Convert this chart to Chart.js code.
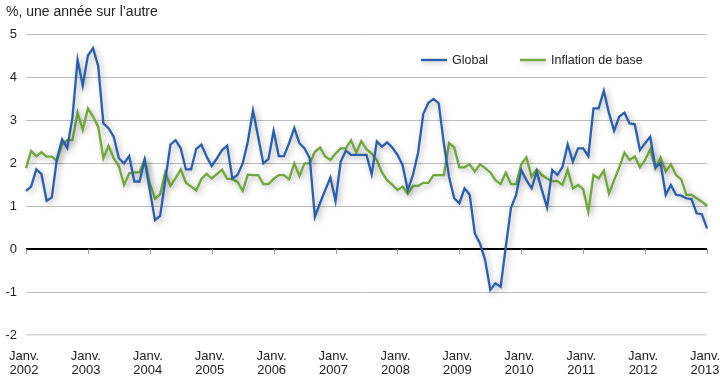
<!DOCTYPE html>
<html>
<head>
<meta charset="utf-8">
<script src="https://cdn.jsdelivr.net/npm/chart.js@4/dist/chart.umd.min.js"></script>
<style>
  html, body { margin: 0; padding: 0; background: #fff; }
  #c { display: block; }
</style>
</head>
<body>
<canvas id="c" width="720" height="380"></canvas>
<script>
// ---- Data (monthly, Jan 2002 – Jan 2013) ----
const yearLabels = ['2002','2003','2004','2005','2006','2007','2008','2009','2010','2011','2012','2013'];
const monthPrefix = 'Janv.';
const yAxisTitle = '%, une année sur l\u2019autre';
const seriesNames = ['Global', 'Inflation de base'];

const globalCPI = [
  1.35,1.45,1.85,1.74,1.12,1.20,2.10,2.55,2.35,3.05,4.40,3.80,
  4.50,4.67,4.25,2.92,2.81,2.61,2.11,1.99,2.16,1.57,1.57,2.07,
  1.37,0.67,0.77,1.60,2.43,2.53,2.34,1.85,1.85,2.33,2.43,2.15,
  1.93,2.11,2.30,2.40,1.64,1.72,1.99,2.50,3.22,2.61,1.99,2.09,
  2.75,2.16,2.16,2.46,2.81,2.46,2.34,2.11,0.75,1.07,1.37,1.66,
  1.12,2.03,2.29,2.19,2.19,2.19,2.19,1.74,2.50,2.38,2.48,2.36,
  2.19,1.95,1.37,1.72,2.24,3.14,3.40,3.49,3.39,2.45,1.68,1.18,
  1.06,1.41,1.26,0.36,0.13,-0.26,-0.95,-0.80,-0.88,0.05,0.95,1.26,
  1.84,1.60,1.41,1.80,1.37,0.97,1.84,1.72,1.91,2.43,2.03,2.34,
  2.34,2.16,3.27,3.27,3.68,3.16,2.75,3.08,3.17,2.92,2.90,2.30,
  2.46,2.61,1.90,2.00,1.26,1.49,1.26,1.24,1.18,1.16,0.83,0.81,
  0.48
];

const coreCPI = [
  1.88,2.28,2.16,2.25,2.15,2.15,2.05,2.42,2.53,2.53,3.17,2.77,
  3.27,3.08,2.84,2.11,2.40,2.11,1.93,1.49,1.76,1.78,1.78,2.09,
  1.53,1.17,1.27,1.78,1.47,1.65,1.85,1.54,1.45,1.36,1.63,1.75,
  1.64,1.74,1.84,1.63,1.63,1.56,1.35,1.73,1.72,1.72,1.51,1.51,
  1.63,1.72,1.72,1.62,1.99,1.70,1.99,1.99,2.26,2.36,2.15,2.07,
  2.22,2.34,2.34,2.53,2.24,2.51,2.32,2.22,2.07,1.78,1.60,1.49,
  1.37,1.45,1.28,1.47,1.47,1.54,1.54,1.72,1.72,1.72,2.46,2.36,
  1.90,1.90,1.97,1.80,1.97,1.88,1.78,1.60,1.51,1.78,1.51,1.51,
  1.97,2.13,1.68,1.85,1.72,1.64,1.58,1.58,1.49,1.84,1.41,1.49,
  1.39,0.87,1.72,1.64,1.82,1.29,1.60,1.90,2.24,2.07,2.15,1.90,
  2.07,2.32,1.88,2.13,1.80,1.97,1.72,1.62,1.26,1.26,1.18,1.10,
  1.00
];

// category labels: one per month
const categories = [];
for (let y = 0; y < yearLabels.length; y++) {
  for (let m = 1; m <= 12; m++) {
    if (categories.length < globalCPI.length) categories.push(yearLabels[y] + '-' + String(m).padStart(2, '0'));
  }
}

const BLUE = '#2b5eab';
const GREEN = '#6fa83b';
const FONT = "'Liberation Sans', Arial, sans-serif";

const deco = {
  id: 'deco',
  beforeDraw(chart) {
    const c = chart.ctx;
    c.save();
    c.fillStyle = '#fff';
    c.fillRect(0, 0, chart.width, chart.height);
    c.fillStyle = '#222';
    c.font = '14px ' + FONT;
    c.textAlign = 'left';
    c.textBaseline = 'middle';
    c.fillText(yAxisTitle, 6, 12);
    c.restore();
  },
  beforeDatasetsDraw(chart) {
    const c = chart.ctx, xs = chart.scales.x, ys = chart.scales.y;
    const y0 = ys.getPixelForValue(0);
    c.save();
    c.strokeStyle = '#999';
    c.lineWidth = 1;
    for (let i = 0; i < categories.length; i += 12) {
      const x = Math.round(xs.getPixelForValue(i)) + 0.5;
      c.beginPath();
      c.moveTo(x, y0);
      c.lineTo(x, y0 + 5);
      c.stroke();
    }
    c.restore();
  },
  beforeDatasetDraw(chart) {
    const c = chart.ctx;
    c.save();
    c.shadowColor = 'rgba(0,0,0,0.35)';
    c.shadowBlur = 6;
    c.shadowOffsetX = 2;
    c.shadowOffsetY = 2;
  },
  afterDatasetDraw(chart) {
    chart.ctx.restore();
  },
  afterDraw(chart) {
    const c = chart.ctx;
    const items = [
      { name: seriesNames[0], color: BLUE, x: 421 },
      { name: seriesNames[1], color: GREEN, x: 520 }
    ];
    const y = 60;
    c.save();
    c.font = '12.5px ' + FONT;
    c.textBaseline = 'middle';
    c.textAlign = 'left';
    items.forEach(it => {
      c.save();
      c.shadowColor = 'rgba(0,0,0,0.3)';
      c.shadowBlur = 5;
      c.shadowOffsetX = 1;
      c.shadowOffsetY = 2;
      c.strokeStyle = it.color;
      c.lineWidth = 2.3;
      c.beginPath();
      c.moveTo(it.x, y);
      c.lineTo(it.x + 26, y);
      c.stroke();
      c.restore();
      c.fillStyle = '#222';
      c.fillText(it.name, it.x + 31, y + 0.5);
    });
    c.restore();
  }
};

new Chart(document.getElementById('c'), {
  type: 'line',
  data: {
    labels: categories,
    datasets: [
      { label: seriesNames[0], data: globalCPI, borderColor: BLUE, borderWidth: 2.3, pointRadius: 0, tension: 0, fill: false },
      { label: seriesNames[1], data: coreCPI, borderColor: GREEN, borderWidth: 2.3, pointRadius: 0, tension: 0, fill: false }
    ]
  },
  options: {
    responsive: false,
    animation: false,
    devicePixelRatio: 1,
    layout: { padding: { top: 34, right: 13, left: 0, bottom: 0 } },
    plugins: { legend: { display: false }, tooltip: { enabled: false }, title: { display: false } },
    scales: {
      x: {
        type: 'category',
        offset: false,
        grid: { display: false, drawTicks: false },
        border: { display: false },
        ticks: {
          autoSkip: false,
          maxRotation: 0,
          minRotation: 0,
          padding: 14,
          labelOffset: -2,
          color: '#222',
          font: { family: FONT, size: 13, lineHeight: '14px' },
          callback: function (v, i) {
            return (i % 12 === 0) ? [monthPrefix, yearLabels[i / 12]] : null;
          }
        },
        afterFit: function (s) { s.height = 45; s.paddingLeft = 0; s.paddingRight = 0; }
      },
      y: {
        min: -2,
        max: 5,
        border: { display: false },
        grid: {
          drawTicks: false,
          color: function (ctx) {
            const v = ctx.tick && ctx.tick.value;
            if (v === 0) return '#000';
            if (v === -2) return '#d8d8d8';
            return '#bdbdbd';
          },
          lineWidth: function (ctx) {
            const v = ctx.tick && ctx.tick.value;
            if (v === 0) return 2;
            if (v === -2) return 1.5;
            return 1;
          }
        },
        ticks: {
          stepSize: 1,
          padding: 9,
          color: '#222',
          font: { family: FONT, size: 13 }
        },
        afterFit: function (s) { s.width = 26; }
      }
    }
  },
  plugins: [deco]
});
</script>
</body>
</html>
